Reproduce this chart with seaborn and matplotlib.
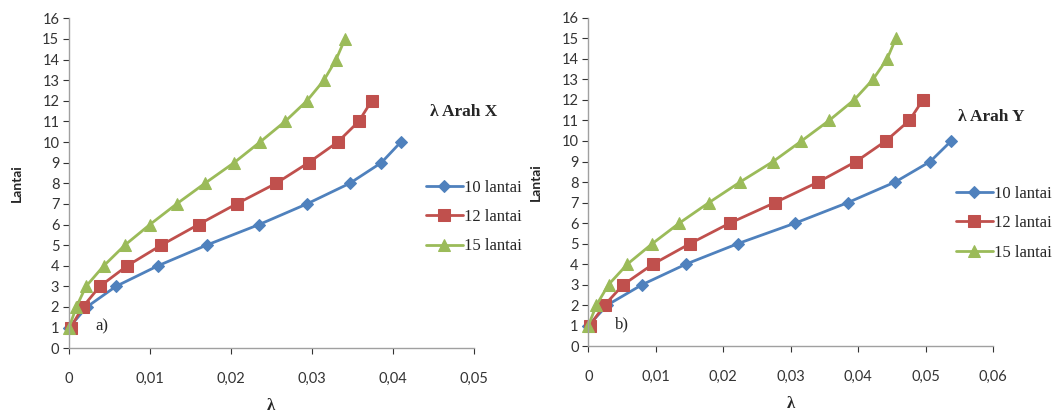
import pandas as pd
import numpy as np
import matplotlib
matplotlib.use("Agg")
import matplotlib.pyplot as plt
import seaborn as sns

# -----------------------------
# Data
# -----------------------------
floors_10 = list(range(1, 11))
floors_12 = list(range(1, 13))
floors_15 = list(range(1, 16))

# Arah X
x_10 = [0.0, 0.0022, 0.0058, 0.0110, 0.0170, 0.0235, 0.0294, 0.0347, 0.0386, 0.0410]
x_12 = [0.0002, 0.0017, 0.0038, 0.0072, 0.0114, 0.0160, 0.0207, 0.0256, 0.0296,
        0.0332, 0.0358, 0.0374]
x_15 = [0.0, 0.0009, 0.0021, 0.0043, 0.0069, 0.0100, 0.0133, 0.0168, 0.0204, 0.0236,
        0.0267, 0.0294, 0.0315, 0.0330, 0.0341]

# Arah Y
y_10 = [0.0, 0.0028, 0.0080, 0.0145, 0.0222, 0.0307, 0.0385, 0.0455, 0.0507, 0.0538]
y_12 = [0.0002, 0.0024, 0.0052, 0.0096, 0.0151, 0.0210, 0.0277, 0.0341, 0.0397,
        0.0441, 0.0476, 0.0496]
y_15 = [0.0, 0.0012, 0.0030, 0.0058, 0.0095, 0.0135, 0.0179, 0.0225, 0.0274, 0.0316,
        0.0357, 0.0394, 0.0422, 0.0443, 0.0456]

series_labels = ["10 lantai", "12 lantai", "15 lantai"]
colors = ["#4F81BD", "#C0504D", "#9BBB59"]
markers = ["D", "s", "^"]
marker_sizes = [6, 9, 8.5]

x_ticks_a = [0, 0.01, 0.02, 0.03, 0.04, 0.05]
x_ticks_b = [0, 0.01, 0.02, 0.03, 0.04, 0.05, 0.06]
y_ticks = list(range(0, 17))

sns.set_style("white")
plt.rcParams["font.family"] = ["Lato", "DejaVu Sans"]

serif = ["Liberation Serif", "DejaVu Serif"]

fig = plt.figure(figsize=(10.62, 4.17), dpi=100)
ax_a = fig.add_axes([0.065, 0.165, 0.381, 0.791])
ax_b = fig.add_axes([0.554, 0.170, 0.381, 0.787])

panels = [
    (ax_a, [x_10, x_12, x_15], x_ticks_a, "a)", "\u03bb Arah X", 0.405, 0.722, 0.395, 0.585),
    (ax_b, [y_10, y_12, y_15], x_ticks_b, "b)", "\u03bb Arah Y", 0.902, 0.71, 0.894, 0.57),
]
floors = [floors_10, floors_12, floors_15]

for ax, xs, xticks, tag, title, tx, ty, lx, ly in panels:
    for vals, fl, lab, c, m, ms in zip(xs, floors, series_labels, colors, markers, marker_sizes):
        df = pd.DataFrame({"lambda": vals, "lantai": fl})
        sns.lineplot(data=df, x="lambda", y="lantai", ax=ax, sort=False,
                     estimator=None, color=c, marker=m, markersize=ms,
                     markeredgecolor=c, linewidth=2, label=lab)

    ax.set_xlim(0, xticks[-1])
    ax.set_ylim(0, 16)
    ax.set_xticks(xticks)
    ax.set_xticklabels(["0"] + [f"{t:.2f}".replace(".", ",") for t in xticks[1:]])
    ax.set_yticks(y_ticks)
    ax.tick_params(axis="both", labelsize=10.5, colors="#333333", length=4,
                   direction="out", left=True, bottom=True)
    ax.tick_params(axis="x", pad=13)
    ax.tick_params(axis="y", pad=3)
    for s in ["top", "right"]:
        ax.spines[s].set_visible(False)
    for s in ["left", "bottom"]:
        ax.spines[s].set_color("#A0A0A0")
        ax.spines[s].set_linewidth(1)

    ax.set_xlabel("\u03bb", fontsize=12, fontweight="bold", family=serif, labelpad=9)
    ax.set_ylabel("Lantai", fontsize=10, fontweight="bold", labelpad=14)

    ax.text(0.065, 0.055, tag, transform=ax.transAxes, fontsize=12, family=serif)

    fig.text(tx, ty, title, fontsize=12.5, fontweight="bold", family=serif)

    leg = ax.legend(loc="upper left", bbox_to_anchor=(lx, ly),
                    bbox_transform=fig.transFigure, frameon=False, fontsize=12,
                    handlelength=2.2, handletextpad=0.1, labelspacing=0.8,
                    borderaxespad=0)
    for t in leg.get_texts():
        t.set_fontfamily(serif)
        t.set_fontsize(12)

for line in ax_a.lines + ax_b.lines:
    line.set_clip_on(False)

fig.savefig("out.png", dpi=100, facecolor="white")
